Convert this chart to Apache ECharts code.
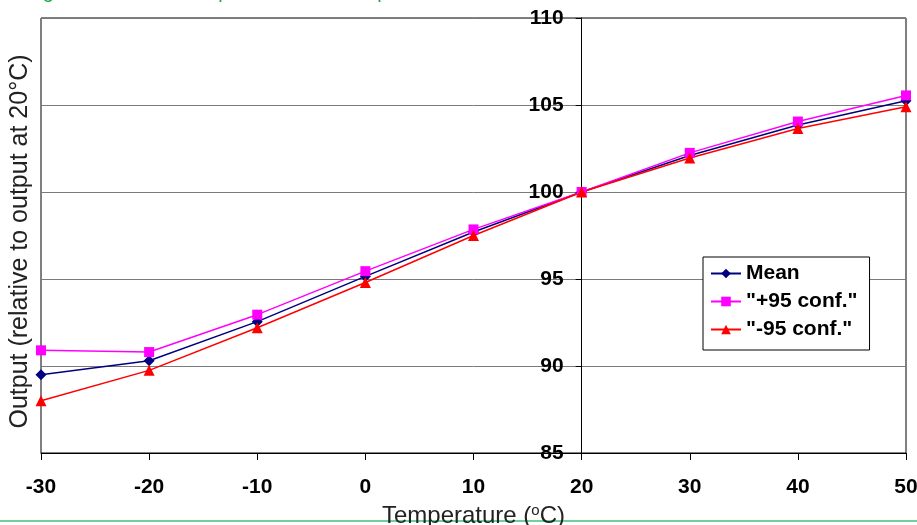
<!DOCTYPE html>
<html>
<head>
<meta charset="utf-8">
<script src="https://cdn.jsdelivr.net/npm/echarts@6/dist/echarts.min.js"></script>
<style>
html,body{margin:0;padding:0;background:#fff;}
#chart{width:917px;height:525px;}
</style>
</head>
<body>
<div id="chart"></div>
<script>
// Data
var temperatures = [-30, -20, -10, 0, 10, 20, 30, 40, 50];
var meanOutput   = [89.5, 90.3, 92.55, 95.15, 97.7, 100, 102.1, 103.85, 105.25];
var plus95Output = [90.9, 90.8, 92.95, 95.45, 97.85, 100, 102.25, 104.05, 105.55];
var minus95Output= [88.0, 89.75, 92.2, 94.8, 97.5, 100, 101.95, 103.65, 104.9];
var xTicks = { min: -30, max: 50, step: 10 };
var yTicks = { min: 85, max: 110, step: 5 };
var yAxisCross = 20;

function pairs(xs, ys) { return xs.map(function (x, i) { return [x, ys[i]]; }); }

var chart = echarts.init(document.getElementById('chart'));
var gridLeft = 41, gridRight = 11, W = 917;
var gridWidth = W - gridLeft - gridRight;
var crossOffset = -(yAxisCross - xTicks.min) / (xTicks.max - xTicks.min) * gridWidth;

var labelFont = { fontFamily: 'Liberation Sans, Arial, sans-serif', fontWeight: 'bold', fontSize: 21, color: '#000' };

chart.setOption({
  animation: false,
  backgroundColor: '#fff',
  graphic: [
    { type: 'text', left: 26, top: -18, silent: true,
      style: { text: 'Figure 3.1 Sensor output relative to temperature', fill: '#1aab4e',
               font: '20px "Liberation Sans", Arial, sans-serif' } },
    { type: 'line', silent: true,
      shape: { x1: 0, y1: 521, x2: 917, y2: 521 },
      style: { stroke: '#6fd09a', lineWidth: 2 } }
  ],
  grid: { left: gridLeft, right: gridRight, top: 18, bottom: 72, show: true,
          outerBoundsMode: 'none', containLabel: false,
          borderColor: '#000', borderWidth: 1, backgroundColor: 'transparent' },
  legend: {
    orient: 'vertical', left: 703, top: 257,
    backgroundColor: '#fff', borderColor: '#000', borderWidth: 1,
    padding: [6, 12, 10, 7], itemGap: 7, itemWidth: 30, itemHeight: 12,
    textStyle: { fontFamily: 'Liberation Sans, Arial, sans-serif', fontWeight: 'bold', fontSize: 21, color: '#000', lineHeight: 21 },
    data: ['Mean', '"+95 conf."', '"-95 conf."']
  },
  xAxis: {
    type: 'value', min: xTicks.min, max: xTicks.max, interval: xTicks.step,
    name: '{t|Temperature (}{s|o}{t|C)}', nameLocation: 'middle', nameGap: 45,
    nameTextStyle: { rich: {
      t: { fontFamily: 'Liberation Sans, Arial, sans-serif', fontSize: 24, lineHeight: 26, color: '#222' },
      s: { fontFamily: 'Liberation Sans, Arial, sans-serif', fontSize: 15, lineHeight: 15, color: '#222', verticalAlign: 'top' }
    } },
    axisLine: { show: true, onZero: false, lineStyle: { color: '#000', width: 1 } },
    axisTick: { show: true, inside: false, length: 7, lineStyle: { color: '#000' } },
    axisLabel: Object.assign({ margin: 24, showMinLabel: true, showMaxLabel: true }, labelFont),
    splitLine: { show: false }
  },
  yAxis: [
    {
      type: 'value', min: yTicks.min, max: yTicks.max, interval: yTicks.step,
      position: 'left', offset: crossOffset,
      axisLine: { show: true, onZero: false, lineStyle: { color: '#000', width: 1 } },
      axisTick: { show: true, inside: false, length: 6, lineStyle: { color: '#000' } },
      axisLabel: Object.assign({ margin: 18, showMinLabel: true, showMaxLabel: true }, labelFont),
      splitLine: { show: true, lineStyle: { color: '#7a7a7a', width: 1 } }
    },
    {
      type: 'value', min: yTicks.min, max: yTicks.max, interval: yTicks.step,
      position: 'left', offset: 0,
      name: 'Output (relative to output at 20°C)', nameLocation: 'middle', nameGap: 8,
      nameTextStyle: { fontFamily: 'Liberation Sans, Arial, sans-serif', fontSize: 25, color: '#222', padding: [0, 12, 0, 0] },
      axisLine: { show: false }, axisTick: { show: false }, axisLabel: { show: false },
      splitLine: { show: false }
    }
  ],
  series: [
    { name: 'Mean', type: 'line', data: pairs(temperatures, meanOutput),
      symbol: 'diamond', symbolSize: 11,
      lineStyle: { color: '#000080', width: 1.5 }, itemStyle: { color: '#000080' } },
    { name: '"+95 conf."', type: 'line', data: pairs(temperatures, plus95Output),
      symbol: 'rect', symbolSize: 10,
      lineStyle: { color: '#ff00ff', width: 1.5 }, itemStyle: { color: '#ff00ff' } },
    { name: '"-95 conf."', type: 'line', data: pairs(temperatures, minus95Output),
      symbol: 'triangle', symbolSize: 11,
      lineStyle: { color: '#ff0000', width: 1.5 }, itemStyle: { color: '#ff0000' } }
  ]
});
</script>
</body>
</html>
